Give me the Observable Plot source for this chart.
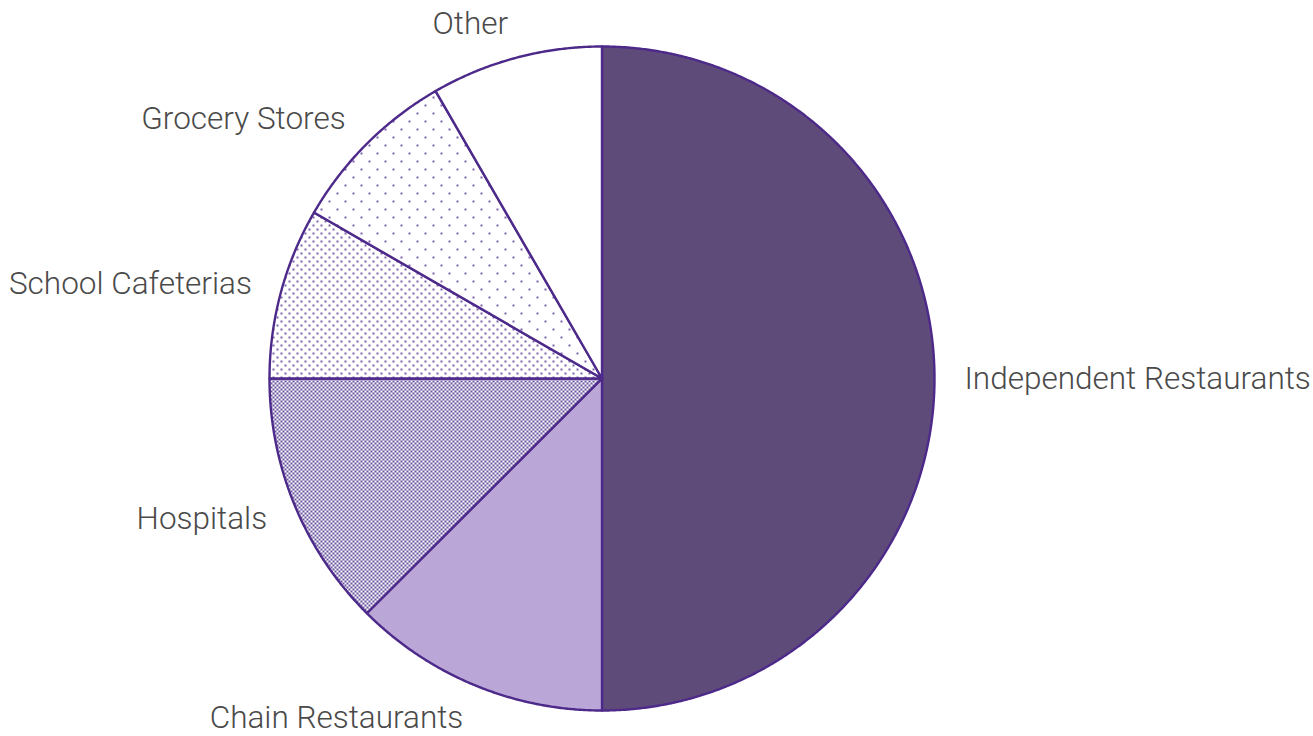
<!DOCTYPE html>
<html>
<head>
<meta charset="utf-8">
<script src="https://cdn.jsdelivr.net/npm/d3@7"></script>
<script src="https://cdn.jsdelivr.net/npm/@observablehq/plot@0.6"></script>
<style>
  html, body { margin: 0; padding: 0; background: #fff; }
  #chart svg { display: block; }
</style>
</head>
<body>
<div id="chart"></div>
<script>
// Data (clockwise from 12 o'clock)
const categories = ["Independent Restaurants", "Chain Restaurants", "Hospitals", "School Cafeterias", "Grocery Stores", "Other"];
const shares = [50, 12.5, 12.5, 8.33, 8.33, 8.34];
const fills = ["#5f4b7a", "#baa6d7", "url(#pat-hosp)", "url(#pat-school)", "url(#pat-grocery)", "#ffffff"];

const pie = d3.pie().sort(null).startAngle(0).endAngle(2 * Math.PI)(shares);

// Slice outlines (polygon approximations of arcs)
const pts = [];
pie.forEach((p, i) => {
  const n = Math.max(8, Math.ceil((p.endAngle - p.startAngle) / 0.005));
  pts.push({name: categories[i], fill: fills[i], x: 0, y: 0});
  for (let k = 0; k <= n; k++) {
    const a = p.startAngle + (p.endAngle - p.startAngle) * k / n;
    pts.push({name: categories[i], fill: fills[i], x: Math.sin(a), y: Math.cos(a)});
  }
  pts.push({name: categories[i], fill: fills[i], x: 0, y: 0});
});

const labelRx = 1.09, labelRy = 1.107;
const labels = pie.map((p, i) => {
  const a = (p.startAngle + p.endAngle) / 2;
  const x = labelRx * Math.sin(a), y = labelRy * Math.cos(a);
  return {name: categories[i], x, y, anchor: x > 1e-6 ? "start" : "end"};
});

const chart = Plot.plot({
  width: 1313,
  height: 736,
  margin: 0,
  x: {domain: [-1, 1], range: [269, 934], axis: null},
  y: {domain: [-1, 1], range: [710, 46], axis: null},
  color: {type: "identity"},
  style: {fontFamily: "Roboto, sans-serif", background: "#fff"},
  marks: [
    Plot.line(pts, {x: "x", y: "y", z: "name", fill: "fill", stroke: "#4d2a8a", strokeWidth: 2.4, strokeLinejoin: "round"}),
    Plot.text(labels.filter(d => d.anchor === "start"), {x: "x", y: "y", text: "name", textAnchor: "start", fontSize: 31.5, fontWeight: 300, fill: "#4a4a4a"}),
    Plot.text(labels.filter(d => d.anchor === "end"), {x: "x", y: "y", text: "name", textAnchor: "end", fontSize: 31.5, fontWeight: 300, fill: "#4a4a4a"})
  ]
});

// Hatch patterns
const ns = "http://www.w3.org/2000/svg";
const defs = document.createElementNS(ns, "defs");
defs.innerHTML = `
  <pattern id="pat-hosp" patternUnits="userSpaceOnUse" width="4" height="4">
    <rect width="4" height="4" fill="#ffffff"/>
    <rect x="0" y="0" width="2" height="2" fill="#6a549e"/>
    <rect x="2" y="2" width="2" height="2" fill="#6a549e"/>
  </pattern>
  <pattern id="pat-school" patternUnits="userSpaceOnUse" width="8" height="8">
    <rect width="8" height="8" fill="#ffffff"/>
    <rect x="0" y="0" width="2" height="2" fill="#7a62aa"/>
    <rect x="4" y="4" width="2" height="2" fill="#7a62aa"/>
  </pattern>
  <pattern id="pat-grocery" patternUnits="userSpaceOnUse" width="16" height="16">
    <rect width="16" height="16" fill="#ffffff"/>
    <rect x="0" y="0" width="2" height="2" fill="#7a62aa"/>
    <rect x="8" y="8" width="2" height="2" fill="#7a62aa"/>
  </pattern>`;
chart.insertBefore(defs, chart.firstChild);

document.getElementById("chart").appendChild(chart);
</script>
</body>
</html>
